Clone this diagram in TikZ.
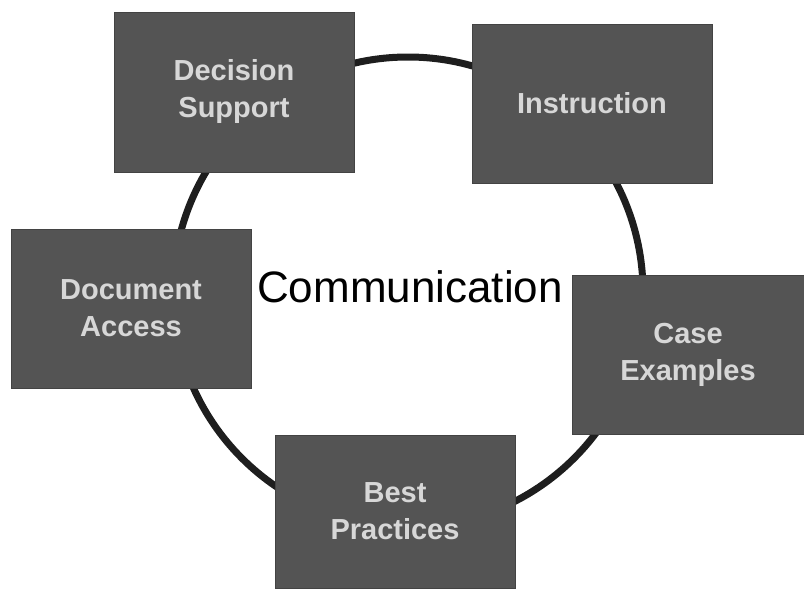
\documentclass[tikz,border=0pt]{standalone}
\usepackage{fontspec}
\setmainfont{Liberation Sans}
\usepackage{xcolor}
\usepackage{tikz}
\usetikzlibrary{positioning}
\definecolor{boxgray}{RGB}{84,84,84}
\definecolor{ringgray}{RGB}{30,30,30}
\definecolor{labelgray}{RGB}{215,215,215}

\begin{document}
\begin{tikzpicture}[
    x=1pt, y=-1pt,
    box_topic/.style={rectangle, draw=boxgray!80!black, line width=0.6pt, fill=boxgray, text=labelgray, align=center,
        font=\fontsize{29}{37}\selectfont\bfseries, inner sep=2pt, minimum width=240pt, minimum height=159pt},
    ring_line/.style={draw=ringgray, line width=7pt}
]
\useasboundingbox (0,0) rectangle (804,589);

% Ring
\coordinate (hub) at (408,292);
\draw[ring_line] (hub) circle[radius=235pt];

% Topics
\node[box_topic, minimum height=160pt] (decision) at (234,92) {Decision\\Support};
\node[box_topic] (instruction) at (592,103.5) {Instruction};
\node[box_topic] (document) at (131,308.5) {Document\\Access};
\node[box_topic, minimum width=232pt] (cases) at (688,354.5) {Case\\Examples};
\node[box_topic, minimum height=153pt] (practices) at (395,511.5) {Best\\Practices};

% Centre
\node[font=\fontsize{44}{50}\selectfont, inner sep=0pt] (comm) at (410,287) {Communication};

\end{tikzpicture}
\end{document}
